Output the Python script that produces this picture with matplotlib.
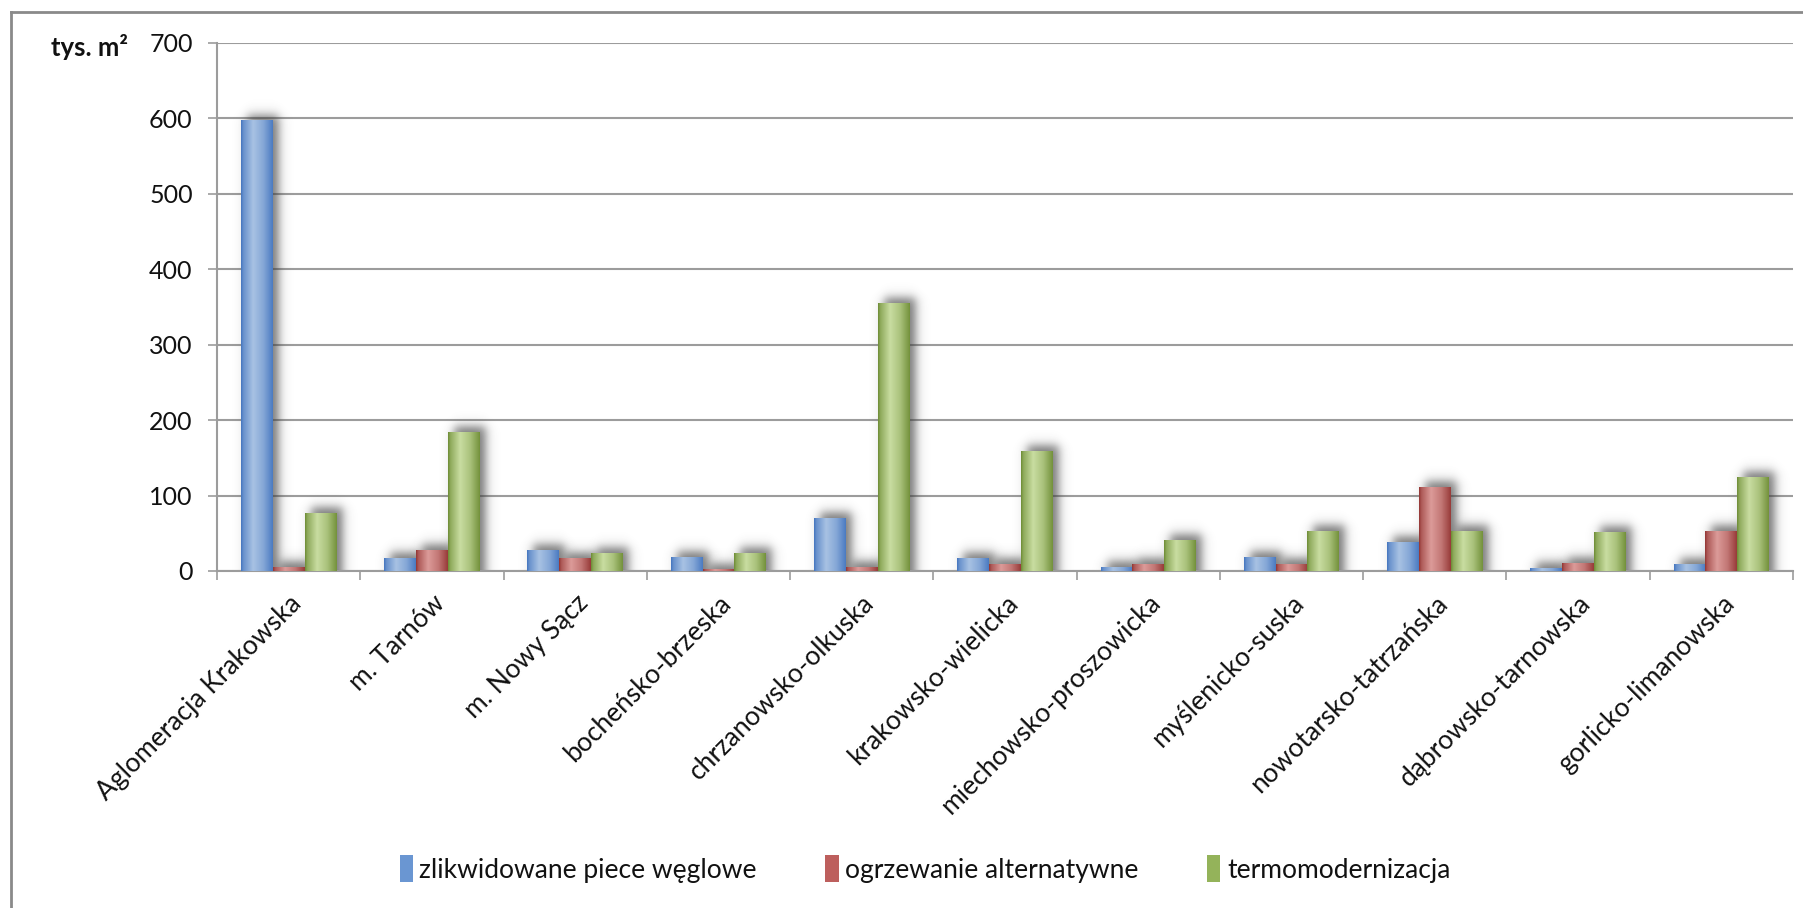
import matplotlib
matplotlib.use("Agg")
import matplotlib.pyplot as plt
from matplotlib.colors import to_rgb
from matplotlib.lines import Line2D
from matplotlib.patches import Patch
import numpy as np

plt.rcParams['font.family'] = ['Lato', 'DejaVu Sans']

# --- DANE ---
regions = ["Aglomeracja Krakowska", "m. Tarnów", "m. Nowy Sącz", "bocheńsko-brzeska",
           "chrzanowsko-olkuska", "krakowsko-wielicka", "miechowsko-proszowicka",
           "myślenicko-suska", "nowotarsko-tatrzańska", "dąbrowsko-tarnowska",
           "gorlicko-limanowska"]
piece_weglowe = [597, 16, 27, 18, 69, 16, 5, 18, 38, 3.5, 9]
ogrzewanie_alt = [5, 27, 16, 1.5, 5, 9, 9, 9, 111, 10.5, 53]
termomodernizacja = [76.5, 184, 23, 23, 355, 159, 40, 53, 53, 51, 124]
series_names = ["zlikwidowane piece węglowe", "ogrzewanie alternatywne", "termomodernizacja"]
y_ticks = [0, 100, 200, 300, 400, 500, 600, 700]
y_unit = "tys. m²"

# (ciemna krawędź, jasny środek) dla każdej serii
SERIES_COLORS = [("#4677c0", "#a8c2e3"), ("#943634", "#dc9b99"), ("#6f8e36", "#c9dda1")]
LEGEND_COLORS = ["#6a96d2", "#bd5f5d", "#94b35a"]

W_PX, H_PX, DPI = 1803, 908, 100
BAR_W = 0.222
AX_LEFT, AX_RIGHT, AX_TOP, AX_BOTTOM = 217, 1793, 43, 571  # w pikselach

fig = plt.figure(figsize=(W_PX / DPI, H_PX / DPI), dpi=DPI)
ax = fig.add_axes([AX_LEFT / W_PX, 1 - AX_BOTTOM / H_PX,
                   (AX_RIGHT - AX_LEFT) / W_PX, (AX_BOTTOM - AX_TOP) / H_PX])

n = len(regions)
# ile jednostek danych przypada na jeden piksel
px_x = n / (AX_RIGHT - AX_LEFT)
px_y = 700 / (AX_BOTTOM - AX_TOP)


def bar_gradient(dark, light, steps=64):
    t = np.linspace(0, 1, steps)
    mix = np.interp(t, [0, 0.07, 0.38, 0.7, 0.93, 1], [0.0, 0.35, 1.0, 0.65, 0.2, 0.05])
    d, l = np.array(to_rgb(dark)), np.array(to_rgb(light))
    return (d[None, :] * (1 - mix[:, None]) + l[None, :] * mix[:, None])[None, :, :]


def logistic(u, s):
    return 1.0 / (1.0 + np.exp(-u / s))


def draw_shadow(x0, w, h):
    # miękki cień przesunięty w prawo i do góry
    dx, dy, blur = 6 * px_x, 6 * px_y, 3.0
    sx, sy = blur * px_x, blur * px_y
    left, right, top = x0 + dx, x0 + w + dx, h + dy
    xs = np.linspace(left - 5 * sx, right + 5 * sx, 60)
    ys = np.linspace(0, top + 5 * sy, 200)
    ax_a = logistic(xs - left, sx) - logistic(xs - right, sx)
    ay = 1 - logistic(ys - top, sy)
    alpha = 0.68 * ay[:, None] * ax_a[None, :]
    img = np.zeros((len(ys), len(xs), 4))
    img[..., :3] = 0.22
    img[..., 3] = alpha
    ax.imshow(img, extent=[xs[0], xs[-1], ys[0], ys[-1]], origin='lower',
              aspect='auto', interpolation='bilinear', zorder=2)


all_series = [piece_weglowe, ogrzewanie_alt, termomodernizacja]
x = np.arange(n)
offsets = [-BAR_W, 0, BAR_W]

# najpierw cienie, potem słupki
for vals, off in zip(all_series, offsets):
    for xi, v in zip(x, vals):
        draw_shadow(xi + off - BAR_W / 2, BAR_W, v)

for vals, off, (dark, light) in zip(all_series, offsets, SERIES_COLORS):
    grad = bar_gradient(dark, light)
    for xi, v in zip(x, vals):
        x0 = xi + off - BAR_W / 2
        ax.imshow(grad, extent=[x0, x0 + BAR_W, 0, v], aspect='auto',
                  interpolation='bilinear', zorder=3)

ax.set_xlim(-0.5, n - 0.5)
ax.set_ylim(0, 700)

GRID = "#9c9c9c"
ax.set_yticks(y_ticks)
ax.yaxis.grid(True, color=GRID, lw=1.5)
ax.set_axisbelow(True)
ax.tick_params(axis='y', length=6.5, width=1.2, color=GRID, pad=11,
               labelsize=18, labelcolor="#111111")

ax.set_xticks(x)
ax.set_xticklabels(regions, rotation=45, ha='right', rotation_mode='anchor',
                   fontsize=19, color="#111111")
ax.set_xticks(np.arange(-0.5, n, 1.0), minor=True)
ax.tick_params(axis='x', which='major', length=0, pad=14)
ax.tick_params(axis='x', which='minor', length=6.5, width=1.2, color=GRID)

for side in ['top', 'right']:
    ax.spines[side].set_visible(False)
for side in ['left', 'bottom']:
    ax.spines[side].set_color(GRID)
    ax.spines[side].set_linewidth(1.5)

fig.text(128 / W_PX, 1 - 47 / H_PX, y_unit, ha='right', va='center',
         fontsize=18.5, fontweight='bold', color="#111111")

handles = [Patch(facecolor=c, edgecolor='none') for c in LEGEND_COLORS]
fig.legend(handles, series_names, loc='center', ncol=3,
           bbox_to_anchor=(925 / W_PX, 1 - 869 / H_PX), frameon=False,
           fontsize=19, handlelength=0.5, handleheight=1.2, handletextpad=0.25,
           columnspacing=2.6, labelcolor="#111111")

# ramka wokół wykresu (widoczna z lewej i u góry)
fx, fy = 11 / W_PX, 1 - 12 / H_PX
fig.add_artist(Line2D([fx, 1], [fy, fy], color="#8a8a8a", lw=2))
fig.add_artist(Line2D([fx, fx], [0, fy], color="#8a8a8a", lw=2))

fig.savefig("out.png", dpi=DPI)
